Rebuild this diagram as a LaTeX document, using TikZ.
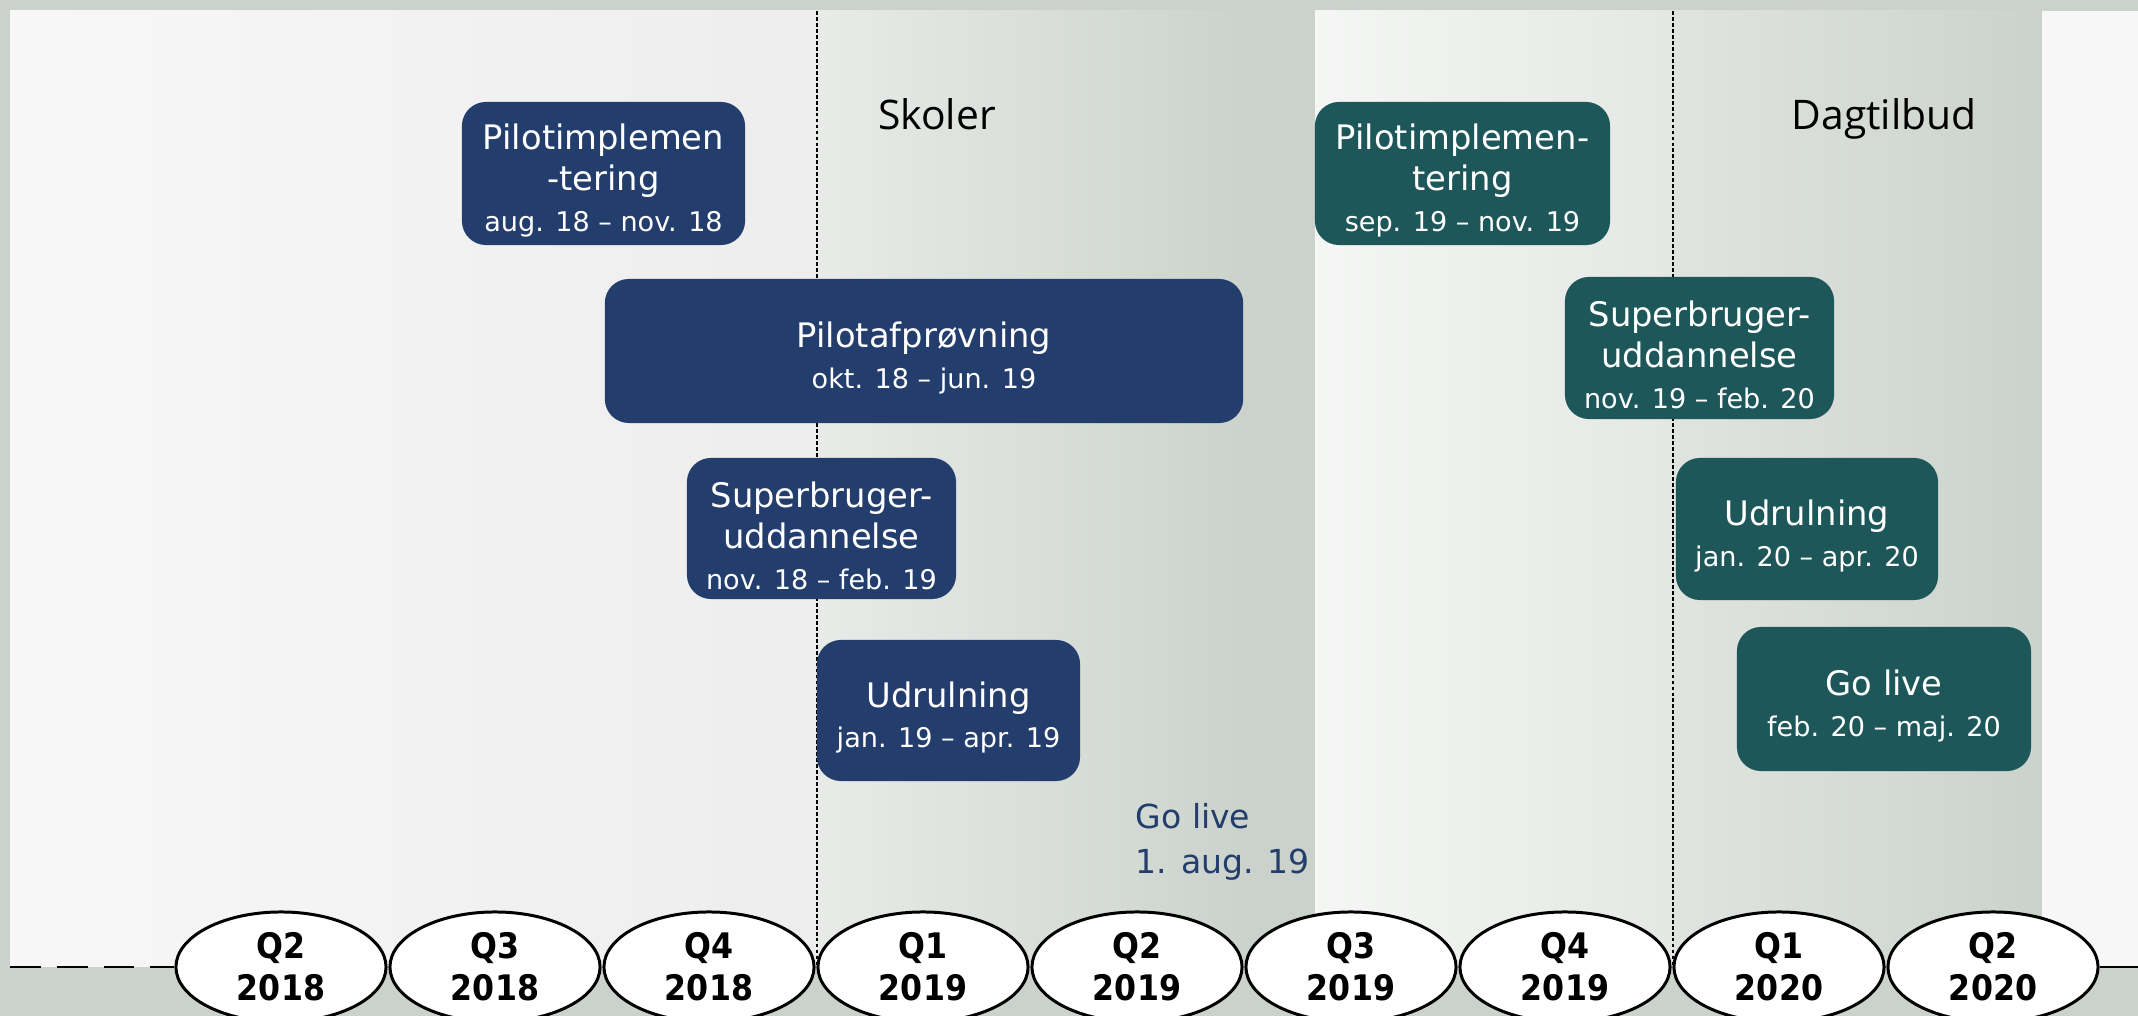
\documentclass[tikz,border=0pt]{standalone}
\usepackage{fontspec}
\setmainfont{DejaVu Sans}
\newfontfamily\overskrift{Open Sans}
\newfontfamily\kvartalfont{DejaVu Sans Condensed}
\usetikzlibrary{shapes.geometric}

\definecolor{baggrund}{HTML}{CBD2CB}
\definecolor{skoleblaa}{HTML}{233D6D}
\definecolor{dagteal}{HTML}{1E5759}

\newcommand{\periode}[1]{{\fontsize{7.7}{11.6}\selectfont #1}}
\newcommand{\hoej}{\rule{0pt}{1.18em}}

\tikzset{
  fase/.style={rounded corners=0.24cm, text=white, align=center, inner sep=0pt,
    font=\fontsize{9.6}{11.6}\selectfont},
  skole/.style={fase, fill=skoleblaa},
  dagtilbud/.style={fase, fill=dagteal},
  kvartal/.style={ellipse, draw, line width=0.85pt, fill=white, inner sep=0pt,
    minimum width=2.1cm, minimum height=1.1cm, align=center,
    font=\kvartalfont\bfseries\fontsize{10}{11.9}\selectfont},
  skillelinje/.style={line width=0.35pt, dash pattern=on 1.1pt off 0.6pt},
  titel/.style={anchor=base, inner sep=0pt, font=\overskrift\fontsize{11.6}{14}\selectfont},
}

\begin{document}
\begin{tikzpicture}[x=0.01cm,y=-0.01cm]
    \useasboundingbox (0,0) rectangle (2138,1016);
    \clip (0,0) rectangle (2138,1016);
    \fill[baggrund] (0,0) rectangle (2138,1016);
    % baggrundsfelter
    \shade[left color=white!97!black, right color=white!93!black] (10,11) rectangle (817,967);
    \shade[left color=white!56!baggrund, right color=baggrund] (817,11) rectangle (1250,967);
    \shade[left color=white!80!baggrund, right color=white!48!baggrund] (1315,11) rectangle (1673,967);
    \shade[left color=white!40!baggrund, right color=baggrund] (1673,11) rectangle (2042,967);
    \fill[white!97!black] (2042,11) rectangle (2138,967);
    \draw[skillelinje] (817,11) -- (817,967);
    \draw[skillelinje] (1673,11) -- (1673,967);

    \node[titel] (skoler) at (937,130) {Skoler};
    \node[titel] (dagtilbud) at (1884,130) {Dagtilbud};

    % skoler
    \node[skole, minimum width=2.83cm, minimum height=1.43cm] (s1) at (603.5,173.5)
        {\hoej Pilotimplemen\\-tering\\\periode{aug. 18 – nov. 18}};
    \node[skole, minimum width=6.38cm, minimum height=1.44cm] (s2) at (924,351)
        {\hoej Pilotafprøvning\\\periode{okt. 18 – jun. 19}};
    \node[skole, minimum width=2.69cm, minimum height=1.41cm] (s3) at (821.5,528.5)
        {\hoej Superbruger-\\uddannelse\\\periode{nov. 18 – feb. 19}};
    \node[skole, minimum width=2.63cm, minimum height=1.41cm] (s4) at (948.5,710.5)
        {\hoej Udrulning\\\periode{jan. 19 – apr. 19}};
    \node[anchor=north west, inner sep=0pt, align=left, text=skoleblaa,
        font=\fontsize{9.4}{12.8}\selectfont] (s5) at (1135,803) {Go live\\1. aug. 19};

    % dagtilbud
    \node[dagtilbud, minimum width=2.95cm, minimum height=1.43cm] (d1) at (1462.5,173.5)
        {\hoej Pilotimplemen-\\tering\\\periode{sep. 19 – nov. 19}};
    \node[dagtilbud, minimum width=2.69cm, minimum height=1.42cm] (d2) at (1699.5,348)
        {\hoej Superbruger-\\uddannelse\\\periode{nov. 19 – feb. 20}};
    \node[dagtilbud, minimum width=2.62cm, minimum height=1.42cm] (d3) at (1807,529)
        {\hoej Udrulning\\\periode{jan. 20 – apr. 20}};
    \node[dagtilbud, minimum width=2.94cm, minimum height=1.44cm] (d4) at (1884,699)
        {\hoej Go live\\\periode{feb. 20 – maj. 20}};

    % tidslinje
    \coordinate (start) at (10,967);
    \coordinate (slut) at (2138,967);
    \foreach \q/\aar [count=\i from 0] in {Q2/2018,Q3/2018,Q4/2018,Q1/2019,Q2/2019,Q3/2019,Q4/2019,Q1/2020,Q2/2020}
        \node[kvartal] (k\i) at ({281+214*\i},967) {\q\\\aar};
    \draw[line width=0.85pt, dash pattern=on 8.8pt off 4.5pt] (start) -- (k0);
    \draw[line width=0.85pt] (k8) -- (slut);
\end{tikzpicture}
\end{document}
